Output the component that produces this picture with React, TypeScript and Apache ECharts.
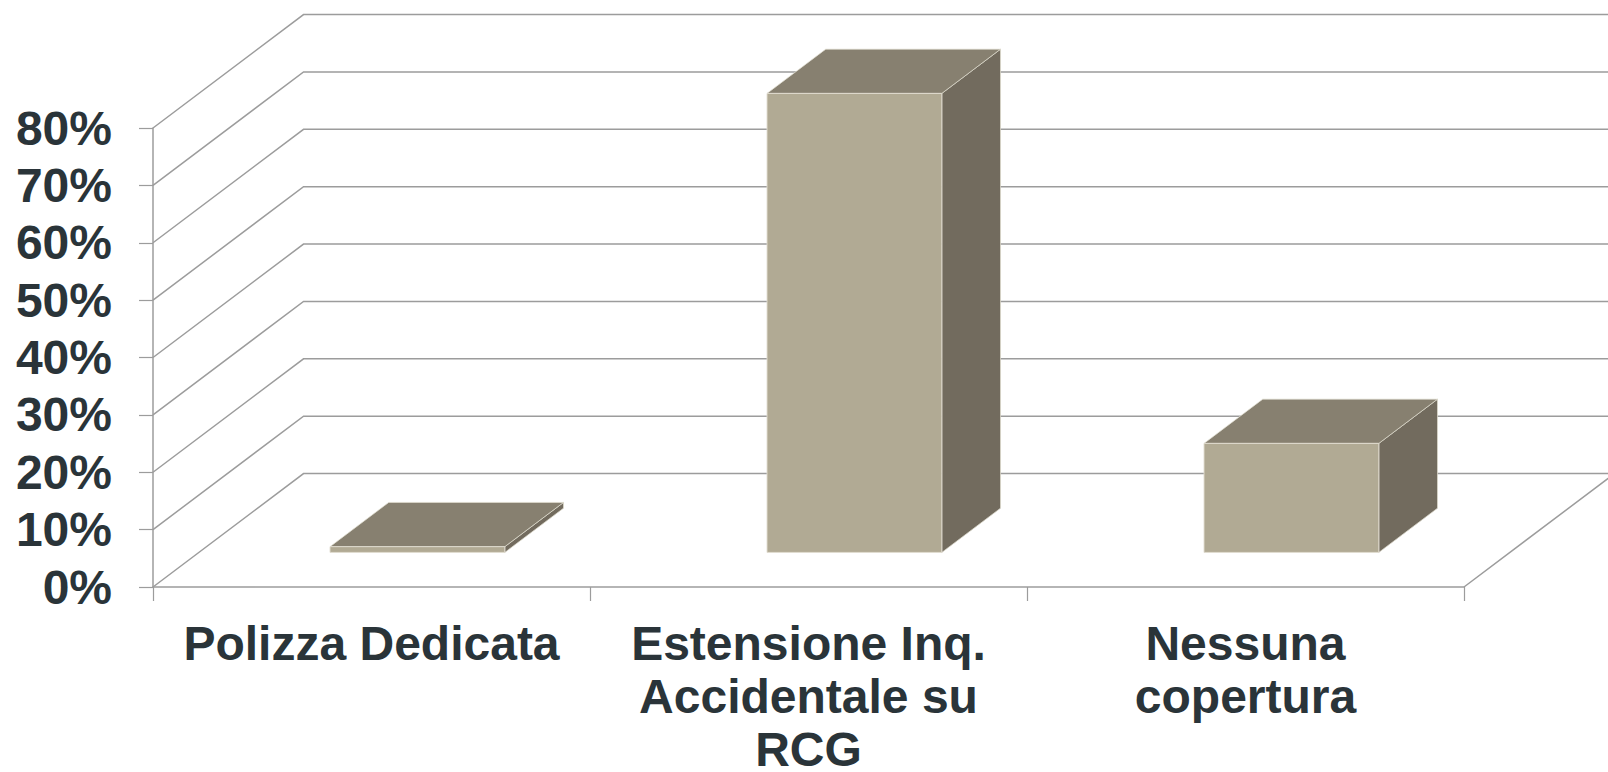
import React, { useEffect, useRef } from 'react';
import * as echarts from 'echarts';

const categories = ['Polizza Dedicata', 'Estensione Inq.\nAccidentale su\nRCG', 'Nessuna\ncopertura'];
const values = [1, 80, 19];
const yTicks = [0, 10, 20, 30, 40, 50, 60, 70, 80];

const DEPTH_RATIO = 0.3445; // depth dx as fraction of category width
const DEPTH_SLOPE = 0.7535; // dy / dx of the depth direction
const BAR_FRONT = 0.305;
const BAR_BACK = 0.695;
const BAR_WIDTH = 0.4;

const GRID_COLOR = '#9c9c9c';
const TEXT_COLOR = '#2a3439';
const FONT = '"Liberation Sans", Arial, sans-serif';

export default function App() {
  const ref = useRef<HTMLDivElement>(null);
  useEffect(() => {
    const chart = echarts.init(ref.current!, null, { renderer: 'svg' });
    chart.setOption({
      animation: false,
      backgroundColor: '#ffffff',
      grid: { left: 153, top: 128, right: 144, bottom: 185, containLabel: false, outerBoundsMode: 'none' },
      xAxis: {
        type: 'category',
        data: categories,
        boundaryGap: true,
        axisLine: { show: true, lineStyle: { color: GRID_COLOR, width: 1.5 } },
        axisTick: { show: true, length: 14, lineStyle: { color: GRID_COLOR, width: 1.2 } },
        axisLabel: {
          interval: 0,
          margin: 30,
          fontSize: 48,
          fontWeight: 'bold',
          color: TEXT_COLOR,
          fontFamily: FONT,
          lineHeight: 53,
        },
        splitLine: { show: false },
      },
      yAxis: {
        type: 'value',
        min: 0,
        max: 80,
        interval: 10,
        axisLine: { show: true, lineStyle: { color: GRID_COLOR, width: 1.5 } },
        axisTick: { show: true, length: 14, lineStyle: { color: GRID_COLOR, width: 1.2 } },
        axisLabel: {
          margin: 41,
          formatter: '{value}%',
          fontSize: 48,
          fontWeight: 'bold',
          color: TEXT_COLOR,
          fontFamily: FONT,
        },
        splitLine: { show: false },
      },
      series: [
        {
          type: 'custom',
          clip: false,
          silent: true,
          z: 1,
          data: yTicks.map((v) => [0, v]),
          encode: { x: 0, y: 1 },
          renderItem: (params: any, api: any) => {
            const v = api.value(1);
            const p = api.coord([0, v]);
            const cw = api.size([1, 0])[0];
            const xL = p[0] - cw / 2;
            const xR = xL + cw * categories.length;
            const dx = cw * DEPTH_RATIO;
            const dy = -dx * DEPTH_SLOPE;
            const pts = [
              [xL, p[1]],
              [xL + dx, p[1] + dy],
              [xR + dx, p[1] + dy],
            ];
            if (v === 0) pts.push([xR, p[1]]);
            return {
              type: 'polyline',
              shape: { points: pts },
              style: { stroke: GRID_COLOR, lineWidth: 1.5, fill: null },
            };
          },
        },
        {
          type: 'custom',
          clip: false,
          z: 2,
          data: values.map((v, i) => [i, v]),
          encode: { x: 0, y: 1 },
          renderItem: (params: any, api: any) => {
            const i = api.value(0);
            const v = api.value(1);
            const base = api.coord([i, 0]);
            const top = api.coord([i, v]);
            const cw = api.size([1, 0])[0];
            const dx = cw * DEPTH_RATIO;
            const dy = -dx * DEPTH_SLOPE;
            const hw = (cw * BAR_WIDTH) / 2;
            const fx = BAR_FRONT * dx, fy = BAR_FRONT * dy;
            const bx = BAR_BACK * dx, by = BAR_BACK * dy;
            const xl = base[0] - hw, xr = base[0] + hw;
            const yb = base[1], yt = top[1];
            const edge = 'rgba(225,221,208,0.9)';
            return {
              type: 'group',
              children: [
                {
                  type: 'polygon',
                  shape: { points: [[xr + fx, yt + fy], [xr + bx, yt + by], [xr + bx, yb + by], [xr + fx, yb + fy]] },
                  style: { fill: '#726b5e', stroke: edge, lineWidth: 0.8 },
                },
                {
                  type: 'polygon',
                  shape: { points: [[xl + fx, yt + fy], [xr + fx, yt + fy], [xr + bx, yt + by], [xl + bx, yt + by]] },
                  style: { fill: '#878070', stroke: edge, lineWidth: 0.8 },
                },
                {
                  type: 'rect',
                  shape: { x: xl + fx, y: yt + fy, width: xr - xl, height: yb - yt },
                  style: { fill: '#b1aa94', stroke: edge, lineWidth: 1 },
                },
              ],
            };
          },
        },
      ],
    });
    return () => chart.dispose();
  }, []);
  return (
    <div
      ref={ref}
      style={{ position: 'fixed', left: 0, top: 0, width: 1608, height: 772, background: '#fff' }}
    />
  );
}
